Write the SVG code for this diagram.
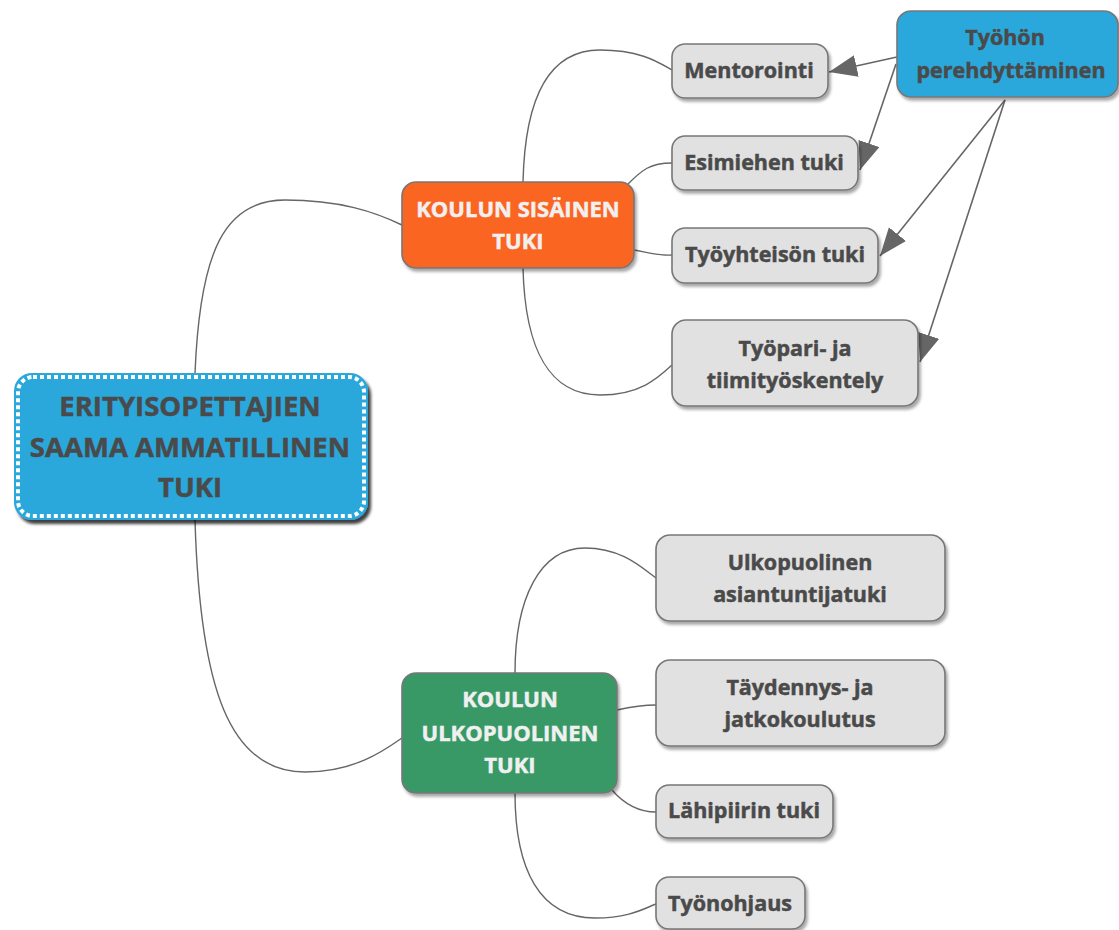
<svg xmlns="http://www.w3.org/2000/svg" width="1119" height="930" viewBox="0 0 1119 930">
  <defs>
    <filter id="shadow" x="-10%" y="-10%" width="130%" height="140%">
      <feDropShadow dx="2" dy="3" stdDeviation="1.5" flood-color="#000" flood-opacity="0.35"/>
    </filter>
    <filter id="shadowDark" x="-10%" y="-10%" width="130%" height="140%">
      <feDropShadow dx="3" dy="4" stdDeviation="1.5" flood-color="#000" flood-opacity="0.75"/>
    </filter>
    <marker id="arrow" markerUnits="userSpaceOnUse" markerWidth="30" markerHeight="24" refX="28" refY="11" orient="auto">
      <path d="M0,0 L28,11 L0,22 Z" fill="#666"/>
    </marker>
    <style>
      .lbl { font-family: "Open Sans", "DejaVu Sans", sans-serif; font-weight: bold; text-anchor: middle; stroke-width: 0.5px; }
      .leaf rect { fill: #e1e1e1; stroke: #777; stroke-width: 1.6; filter: url(#shadow); }
      .leaf text { fill: #4a4a4a; stroke: #4a4a4a; font-size: 21.5px; }
      .branch rect { stroke: #777; stroke-width: 1.6; filter: url(#shadow); }
      .branch text { fill: #f0f0f0; stroke: #f0f0f0; font-size: 22px; }
      .links path { fill: none; stroke: #666; stroke-width: 1.4; }
      .links line { stroke: #666; stroke-width: 1.6; marker-end: url(#arrow); }
    </style>
  </defs>

  <g class="links">
    <!-- root to branches -->
    <path d="M195,373 C200,250 225,200 285,200 C340,200 375,212 402,225"/>
    <path d="M195,520 C200,690 230,772 305,772 C355,772 385,750 402,738"/>
    <!-- internal support branch -->
    <path d="M523,182 C525,95 550,50 600,50 C640,50 658,62 672,70"/>
    <path d="M628,184 C642,170 650,163 672,163"/>
    <path d="M634,250 C650,253 660,256 672,255"/>
    <path d="M523,268 C525,350 550,395 600,395 C640,395 658,378 672,365"/>
    <!-- external support branch -->
    <path d="M515,673 C515,598 540,548 585,548 C622,548 642,568 656,578"/>
    <path d="M617,710 C635,706 645,705 656,705"/>
    <path d="M612,790 C625,805 640,812 656,812"/>
    <path d="M515,793 C515,870 540,918 595,918 C630,918 645,908 656,904"/>
    <!-- cross links with arrowheads -->
    <line x1="897" y1="57" x2="829" y2="72"/>
    <line x1="896" y1="64" x2="860" y2="170"/>
    <line x1="1005" y1="100" x2="880" y2="256"/>
    <line x1="1005" y1="100" x2="920" y2="362"/>
  </g>

  <g id="root">
    <rect x="14" y="373" width="354" height="147" rx="18" fill="#29a8dc" filter="url(#shadowDark)"/>
    <rect x="18" y="377" width="346" height="139" rx="15" fill="none" stroke="#fff" stroke-width="4" stroke-dasharray="4 3"/>
    <g fill="#4a4a4a" stroke="#4a4a4a">
      <text class="lbl" x="190" y="416" font-size="27.5">ERITYISOPETTAJIEN</text>
      <text class="lbl" x="190" y="457" font-size="27.5">SAAMA AMMATILLINEN</text>
      <text class="lbl" x="190" y="497" font-size="27.5">TUKI</text>
    </g>
  </g>

  <g id="internal" class="branch">
    <rect x="402" y="182" width="232" height="86" rx="14" fill="#fb6520"/>
    <text class="lbl" x="518" y="217">KOULUN SISÄINEN</text>
    <text class="lbl" x="518" y="249">TUKI</text>
  </g>

  <g id="external" class="branch">
    <rect x="402" y="673" width="215" height="120" rx="14" fill="#379966"/>
    <text class="lbl" x="510" y="707">KOULUN</text>
    <text class="lbl" x="510" y="741">ULKOPUOLINEN</text>
    <text class="lbl" x="510" y="773">TUKI</text>
  </g>

  <g id="orientation" class="leaf">
    <rect x="897" y="11" width="221" height="86" rx="14" style="fill:#29a8dc"/>
    <text class="lbl" x="1005" y="45">Työhön</text>
    <text class="lbl" x="1011" y="78">perehdyttäminen</text>
  </g>

  <g id="mentoring" class="leaf">
    <rect x="672" y="44" width="156" height="54" rx="13"/>
    <text class="lbl" x="749" y="78">Mentorointi</text>
  </g>

  <g id="supervisor" class="leaf">
    <rect x="672" y="136" width="186" height="54" rx="13"/>
    <text class="lbl" x="764" y="170">Esimiehen tuki</text>
  </g>

  <g id="community" class="leaf">
    <rect x="672" y="228" width="206" height="55" rx="13"/>
    <text class="lbl" x="775" y="262">Työyhteisön tuki</text>
  </g>

  <g id="teamwork" class="leaf">
    <rect x="672" y="320" width="246" height="86" rx="14"/>
    <text class="lbl" x="795" y="356">Työpari- ja</text>
    <text class="lbl" x="795" y="388">tiimityöskentely</text>
  </g>

  <g id="expert" class="leaf">
    <rect x="656" y="535" width="289" height="86" rx="14"/>
    <text class="lbl" x="800" y="570">Ulkopuolinen</text>
    <text class="lbl" x="800" y="602">asiantuntijatuki</text>
  </g>

  <g id="training" class="leaf">
    <rect x="656" y="660" width="289" height="86" rx="14"/>
    <text class="lbl" x="800" y="695">Täydennys- ja</text>
    <text class="lbl" x="800" y="727">jatkokoulutus</text>
  </g>

  <g id="close-circle" class="leaf">
    <rect x="656" y="785" width="177" height="53" rx="13"/>
    <text class="lbl" x="744" y="818">Lähipiirin tuki</text>
  </g>

  <g id="supervision" class="leaf">
    <rect x="656" y="877" width="149" height="52" rx="13"/>
    <text class="lbl" x="730" y="911">Työnohjaus</text>
  </g>
</svg>
